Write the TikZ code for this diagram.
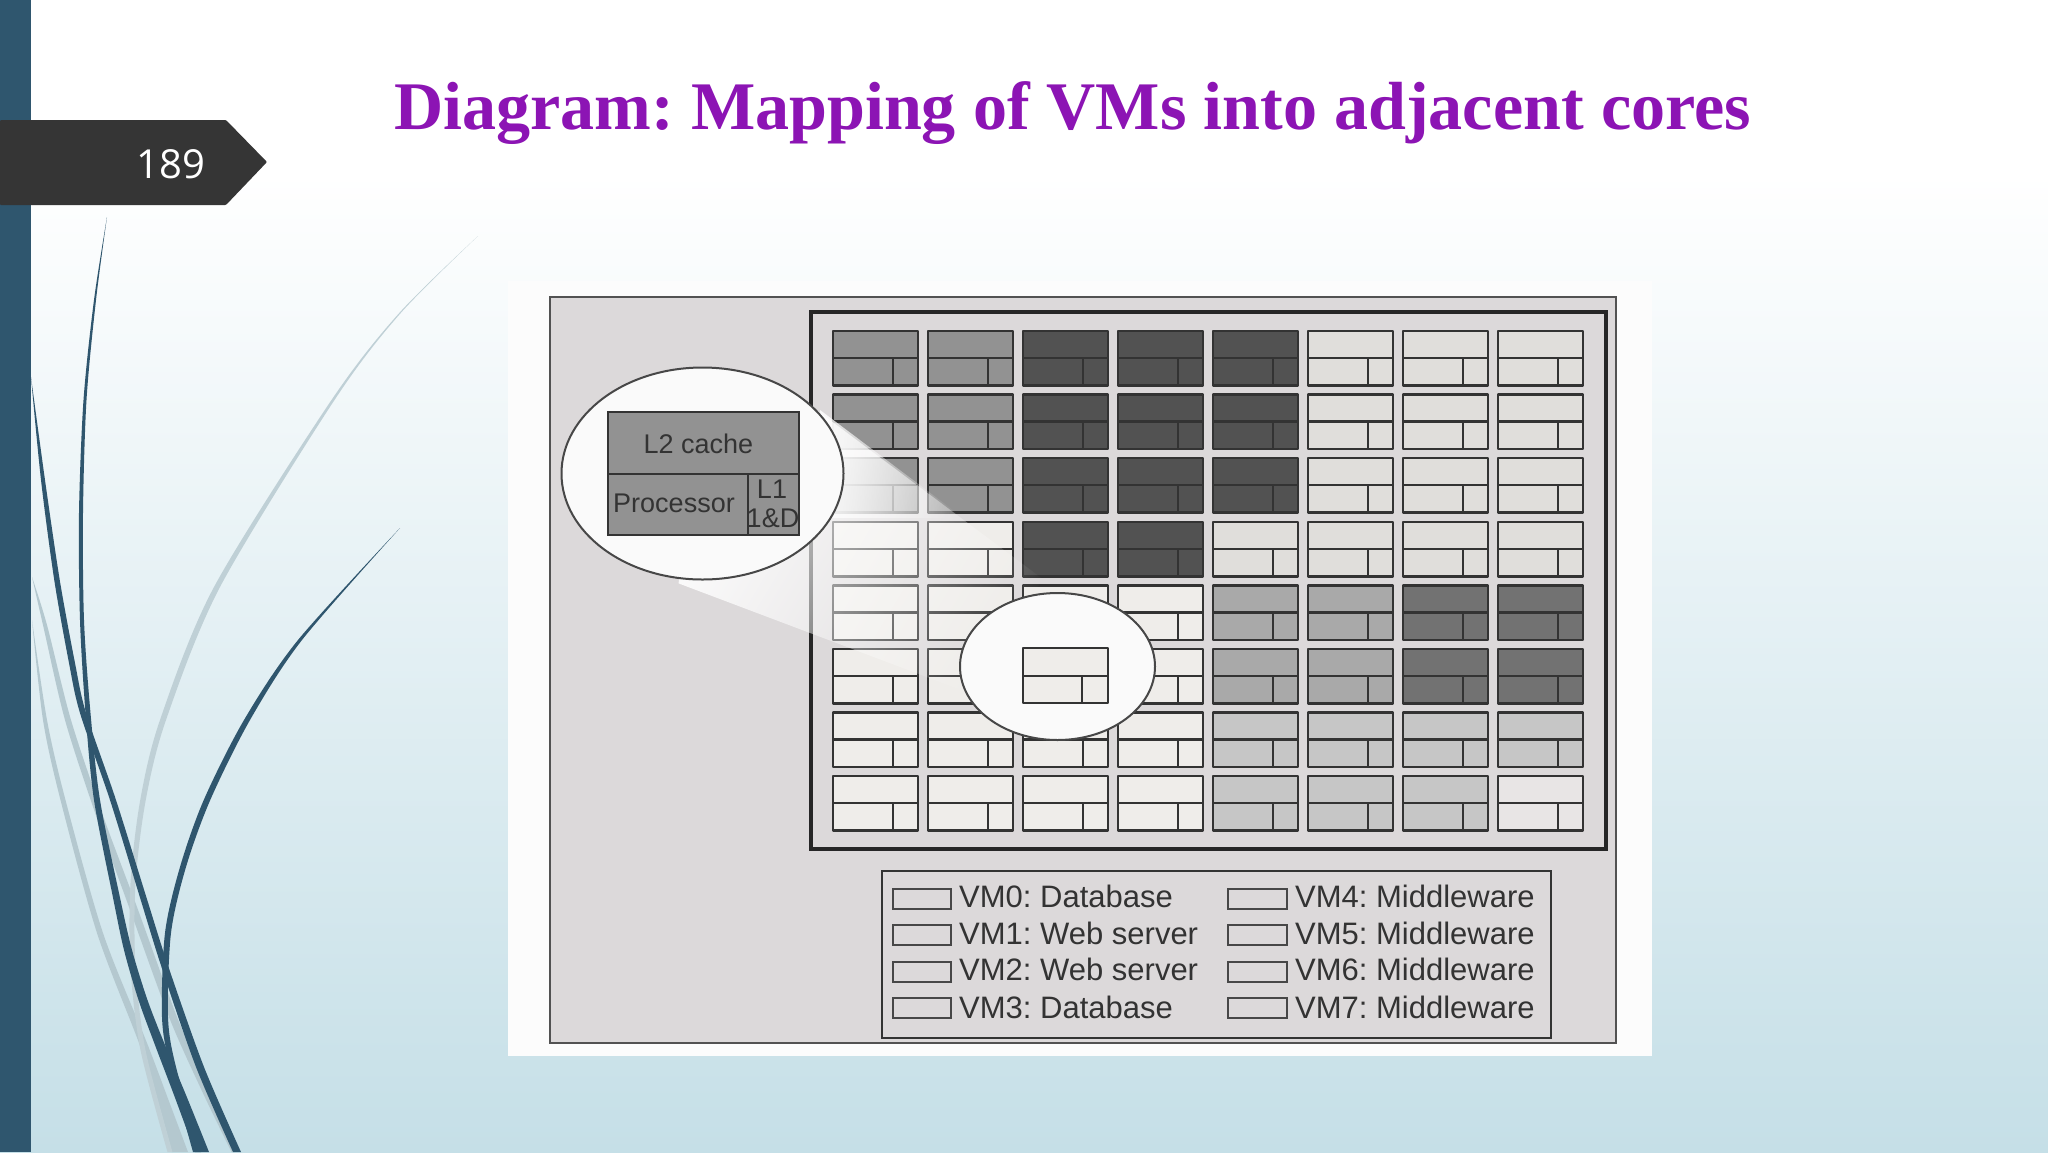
\documentclass[tikz,border=0pt]{standalone}
\usepackage{fontspec}
\setmainfont{Liberation Sans}
\newfontfamily\titlefont{Liberation Serif}[Scale=1]
\newfontfamily\numfont{Open Sans}
\usetikzlibrary{fadings,shapes.geometric}
\definecolor{slatebar}{HTML}{2F566E}
\definecolor{leafgray}{HTML}{B4C8CF}
\definecolor{bgbot}{HTML}{C5DFE7}
\definecolor{tagdark}{HTML}{353535}
\definecolor{titlepurple}{HTML}{8C14B4}
\definecolor{panelgray}{HTML}{DCD9DA}
\definecolor{inkdark}{HTML}{333333}
\definecolor{cA}{HTML}{929292}
\definecolor{cB}{HTML}{525252}
\definecolor{cC}{HTML}{E0DEDB}
\definecolor{cD}{HTML}{EFEDEA}
\definecolor{cE}{HTML}{A9A9A9}
\definecolor{cF}{HTML}{727272}
\definecolor{cG}{HTML}{C6C6C6}
\definecolor{cH}{HTML}{E8E5E5}
\pgfdeclareverticalshading{slidebg}{100bp}{color(0bp)=(bgbot); color(25bp)=(bgbot); color(67.5bp)=(white); color(100bp)=(white)}
\tikzfading[name=beamfade, left color=transparent!0, middle color=transparent!22, right color=transparent!100]
\tikzfading[name=beamcore, left color=transparent!15, right color=transparent!100]
\newcommand{\leaf}[2]{%
  \gdef\lfwd{}\gdef\lbwd{}%
  \foreach \px/\py/\pw in {#2}{%
    \pgfmathsetmacro{\pl}{\px-\pw/2}%
    \pgfmathsetmacro{\pr}{\px+\pw/2}%
    \xdef\lfwd{\lfwd (\pl,\py)}%
    \xdef\lbwd{(\pr,\py) \lbwd}%
  }%
  \edef\leafcmd{\noexpand\fill[#1] plot[smooth] coordinates {\lfwd} -- plot[smooth] coordinates {\lbwd} -- cycle;}%
  \leafcmd}
\tikzset{
  cellbox/.style={draw=inkdark, line width=2.5pt, line join=round},
  lens/.style={draw=inkdark!90, line width=2pt, fill=white!98!black},
  legendbox/.style={draw=inkdark!90, line width=2pt},
  legendtext/.style={anchor=base west, inner sep=0pt, text=inkdark, font=\fontsize{31}{31}\selectfont},
  zoomtext/.style={inner sep=0pt, text=inkdark, font=\fontsize{27}{27}\selectfont},
}
\frenchspacing
\begin{document}
\begin{tikzpicture}[x=1pt,y=-1pt]
\useasboundingbox (0,0) rectangle (2048,1152);
\shade[shading=slidebg] (0,0) rectangle (2048,1152);
% leaves
\leaf{leafgray}{32/577/0, 45/625/4, 68/720/6, 100/817/7, 133/907/8, 173/1017/8, 205/1090/7, 233/1152/3}
\leaf{leafgray}{32/620/0, 45/720/4, 63/800/5, 100/933/6, 143/1043/8, 163/1100/11, 180/1152/16}
\leaf{leafgray!85!white}{478/236/0, 400/313/1.5, 333/400/3, 217/587/6, 163/720/6, 143/800/5.5, 133/883/5, 133/967/5, 143/1050/5, 170/1152/5}
\leaf{slatebar}{31/377/0, 43/480/4, 57/580/5.5, 72/663/6, 83/713/6, 113/800/6, 144/900/6.5, 165/967/7, 200/1067/8, 237/1152/8}
\leaf{slatebar}{107/217/0, 95/300/2, 85/400/3, 81/513/4, 82/620/4, 88/713/5, 97/800/6, 117/900/7, 128/950/8, 143/1000/9, 160/1045/10, 180/1095/12, 202/1152/14}
\leaf{slatebar}{400/528/0, 300/640/4, 247/720/6, 207/800/6.5, 183/867/6, 168/933/6, 165/1017/6, 173/1067/6, 197/1152/8}
% left bar and page tag
\fill[slatebar] (0,0) rectangle (31,1152);
\fill[tagdark, rounded corners=1pt] (0,120) -- (226,120) -- (267,162) -- (226,205) -- (0,205) -- cycle;
\node[anchor=base, inner sep=0pt, text=white, font=\numfont\fontsize{40}{40}\selectfont] (pagenum) at (171,178) {189};
% title
\node[anchor=base west, inner sep=0pt, text=titlepurple, font=\titlefont\bfseries\fontsize{68.1}{68}\selectfont] (title) at (394,129) {Diagram: Mapping of VMs into adjacent cores};
% image panel
\fill[white!99!black] (508,281) rectangle (1652,1056);
\draw[draw=inkdark!85, line width=2.5pt, fill=panelgray] (550,297) rectangle (1616,1043);
\draw[draw=black!85, line width=3.5pt] (811,312) rectangle (1606,849);
% grid of cores
\foreach \row [count=\ri from 0] in {
  {cA,cA,cB,cB,cB,cC,cC,cC},
  {cA,cA,cB,cB,cB,cC,cC,cC},
  {cA,cA,cB,cB,cB,cC,cC,cC},
  {cD,cD,cB,cB,cC,cC,cC,cC},
  {cD,cD,cD,cD,cE,cE,cF,cF},
  {cD,cD,cD,cD,cE,cE,cF,cF},
  {cD,cD,cD,cD,cG,cG,cG,cG},
  {cD,cD,cD,cD,cG,cG,cG,cH}}{
  \foreach \cc [count=\ci from 0] in \row {
    \pgfmathsetmacro{\cx}{833+95*\ci}
    \pgfmathsetmacro{\cy}{331+63.6*\ri}
    \draw[cellbox, fill=\cc] (\cx,\cy) rectangle ++(85,54.5);
    \draw[cellbox] (\cx,\cy+27) -- ++(85,0);
    \draw[cellbox] (\cx+60,\cy+27) -- ++(0,27.5);
  }
}
% zoom beam
\path[fill=white, path fading=beamfade, fit fading=true, fading transform={rotate=-28}]
  (700,380) -- (820,410) -- (1045,578) -- (990,700) -- (680,583) -- cycle;
\path[fill=white, path fading=beamcore, fit fading=true]
  (820,410) -- (957,513) -- (957,518) -- (820,518) -- cycle;
% big lens
\node[lens, ellipse, minimum width=282pt, minimum height=212pt, inner sep=0pt] (biglens) at (702.5,473.5) {};
\draw[draw=inkdark, line width=2pt, fill=cA] (608,412) rectangle (799,535);
\draw[draw=inkdark, line width=2pt] (608,474) -- (799,474);
\draw[draw=inkdark, line width=2pt] (748,474) -- (748,535);
\node[zoomtext] (ltwo) at (698.5,444) {L2 cache};
\node[zoomtext] (proc) at (674,503) {Processor};
\node[zoomtext, anchor=base] (lone) at (772,498) {L1};
\node[zoomtext, anchor=base] (lonei) at (773,527) {1\&D};
% small lens
\node[lens, ellipse, minimum width=195pt, minimum height=147pt, inner sep=0pt] (smalllens) at (1057.5,666.5) {};
\draw[cellbox, fill=cD] (1023,648) rectangle ++(85,55);
\draw[cellbox] (1023,676) -- ++(85,0);
\draw[cellbox] (1082,676) -- ++(0,27);
% legend
\draw[draw=inkdark, line width=2.2pt] (882,871) rectangle (1551,1038);
\foreach \sy in {889,925,962,998}{
  \draw[legendbox] (893,\sy) rectangle ++(58,20);
  \draw[legendbox] (1228,\sy) rectangle ++(59,20);
}
\node[legendtext] (vmzero) at (959,907) {VM0: Database};
\node[legendtext] (vmone) at (959,944) {VM1: Web server};
\node[legendtext] (vmtwo) at (959,980) {VM2: Web server};
\node[legendtext] (vmthree) at (959,1018) {VM3: Database};
\node[legendtext] (vmfour) at (1295,907) {VM4: Middleware};
\node[legendtext] (vmfive) at (1295,944) {VM5: Middleware};
\node[legendtext] (vmsix) at (1295,980) {VM6: Middleware};
\node[legendtext] (vmseven) at (1295,1018) {VM7: Middleware};
\end{tikzpicture}
\end{document}
